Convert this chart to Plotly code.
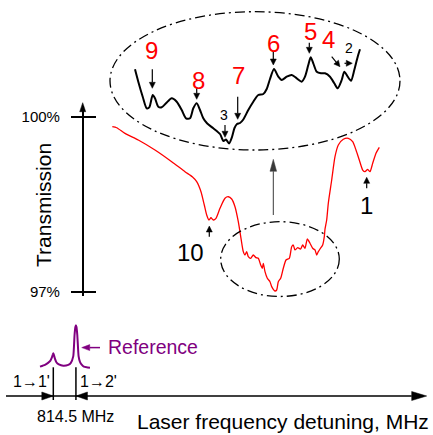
import math
import plotly.graph_objects as go

# ---------------- data ----------------
# Transmission spectrum of the sample: laser detuning (MHz) vs transmission (%)
detuning_mhz = [2124, 2282, 2581, 3060, 3661, 4262, 4741, 5004, 5162, 5317,
                5436, 5522, 5605, 5677, 5760, 5857, 6001, 6181, 6300, 6422,
                6541, 6660, 6757, 6840, 6901, 6962, 7020, 7106, 7200, 7297,
                7380, 7466, 7524, 7560, 7621, 7704, 7801, 7862, 7981, 8042,
                8100, 8186, 8280, 8377, 8496, 8582, 8640, 8701, 8798, 8906,
                8978, 9061, 9144, 9241, 9338, 9421, 9482, 9540, 9601, 9698,
                9756, 9781, 9842, 9900, 10022, 10141, 10260, 10440, 10620, 10778,
                10897, 11016, 11138, 11221, 11318, 11401, 11498, 11617, 11736]
transmission_pct = [99.829, 99.811, 99.715, 99.601, 99.429, 99.229, 99.057, 98.971, 98.886, 98.714,
                    98.486, 98.315, 98.229, 98.268, 98.229, 98.258, 98.430, 98.601, 98.628, 98.589,
                    98.457, 98.200, 97.915, 97.686, 97.629, 97.686, 97.600, 97.572, 97.629, 97.583,
                    97.572, 97.458, 97.401, 97.487, 97.343, 97.230, 97.171, 97.086, 97.012, 97.029,
                    97.171, 97.230, 97.401, 97.543, 97.572, 97.771, 97.800, 97.715, 97.754, 97.732,
                    97.800, 97.744, 97.903, 97.830, 97.744, 97.715, 97.629, 97.686, 97.732, 97.800,
                    97.943, 98.070, 98.229, 98.515, 98.915, 99.314, 99.515, 99.613, 99.630, 99.571,
                    99.429, 99.258, 99.086, 99.057, 99.098, 99.057, 99.201, 99.373, 99.475]

# Magnified view of the central absorption dip
inset_detuning_mhz = [6700, 6746, 6808, 6864, 6900, 6948, 6980, 7026, 7074, 7134,
                      7214, 7284, 7354, 7414, 7470, 7516, 7564, 7610, 7656, 7708,
                      7796, 7890, 7939, 7974, 8016, 8058, 8093, 8128, 8170, 8216,
                      8286, 8356, 8426, 8496, 8544, 8590, 8646, 8706, 8754, 8824,
                      8894, 8964, 9034, 9080, 9126, 9160, 9196, 9244, 9304, 9360,
                      9430, 9490, 9538, 9594, 9630, 9678, 9724, 9770, 9818, 9850]
inset_transmission_pct = [98.297, 98.173, 98.023, 97.907, 97.917, 98.040, 98.007, 97.923, 97.917, 97.957,
                          98.007, 97.973, 97.890, 97.807, 97.807, 97.907, 97.957, 97.890, 97.807, 97.757,
                          97.707, 97.650, 97.580, 97.595, 97.555, 97.620, 97.710, 97.750, 97.760, 97.795,
                          97.890, 97.973, 98.040, 98.050, 98.100, 98.200, 98.300, 98.223, 98.190, 98.223,
                          98.240, 98.207, 98.173, 98.223, 98.340, 98.417, 98.357, 98.273, 98.257, 98.257,
                          98.223, 98.157, 98.107, 98.190, 98.273, 98.223, 98.183, 98.290, 98.423, 98.497]

# Saturated-absorption reference signal (arb. units)
ref_detuning_mhz = [-479, -300, -200, -110, -50, -15, 0, 15, 50, 110,
                    200, 360, 540, 626, 720, 765, 795, 814.5, 834, 864,
                    910, 960, 1030, 1100, 1200, 1321]
ref_signal_au = [0.06, 0.10, 0.14, 0.19, 0.27, 0.34, 0.364, 0.34, 0.26, 0.16,
                 0.11, 0.08, 0.10, 0.14, 0.30, 0.78, 0.96, 1.0, 0.96, 0.78,
                 0.30, 0.17, 0.10, 0.06, 0.045, 0.036]

transitions_mhz = [0.0, 814.5]
transition_labels = ["1\u21921'", "1\u21922'"]

trans_tickvals = [97, 100]
trans_ticktext = ["97%", "100%"]

# Numbered resonances: (label, point index, label offset, arrow tail, arrow tip, colour, size)
inset_marks = [
    ("9", 5, (-1, 44.5), (-0.4, 25.7), (-0.4, 6.7), "red", 24),
    ("8", 16, (2.1, 23.3), (0, 15), (0, 4), "red", 24),
    ("7", 27, (1.3, 48.5), (0.7, 27.3), (0.7, 4.7), "red", 24),
    ("3", 23, (-1.7, 24.5), (-1, 14.5), (-1, 2.2), "black", 14),
    ("6", 36, (-0.7, 25.5), (-0.7, 17.3), (-0.7, 4), "red", 24),
    ("5", 45, (-0.7, 26), (-1.4, 14.6), (-1.4, 4), "red", 24),
    ("4", 54, (-16, 32.7), (-12.6, 15), (-4.3, 5), "red", 24),
    ("2", 57, (-5, 21.7), (-9.8, 6.7), (-2, 6.7), "black", 14),
]
main_marks = [
    ("10", 12, (-18.5, -32.5), (0.3, -16.7), (0.3, -6), "black", 24),
    ("1", 73, (1.7, -33.3), (1.7, -16.6), (1.7, -5.6), "black", 24),
]

# ---------------- geometry helpers ----------------
W, H = 433, 435
FONT = "Liberation Sans, Arial, sans-serif"
PURPLE = "#800080"


def X(px):
    return px / W


def Y(py):
    return 1 - py / H


def arrow(xref, yref, xanchor, yanchor, tail, tip, head_len, head_hw, color, lw):
    """Arrow drawn in pixel offsets (y upwards) around an anchor point."""
    (x0, y0), (x1, y1) = tail, tip
    dx, dy = x1 - x0, y1 - y0
    length = math.hypot(dx, dy)
    ux, uy = dx / length, dy / length
    bx, by = x1 - ux * head_len, y1 - uy * head_len
    nx, ny = -uy, ux
    fmt = lambda v: f"{v:.2f}"
    common = dict(type="path", xref=xref, yref=yref, xsizemode="pixel",
                  ysizemode="pixel", xanchor=xanchor, yanchor=yanchor, layer="above")
    out = []
    if length - head_len > 0.5:
        out.append(dict(common, path=f"M{fmt(x0)},{fmt(y0)} L{fmt(bx)},{fmt(by)}",
                        line=dict(color=color, width=lw)))
    out.append(dict(common,
                    path=(f"M{fmt(x1)},{fmt(y1)} L{fmt(bx + nx * head_hw)},{fmt(by + ny * head_hw)} "
                          f"L{fmt(bx - nx * head_hw)},{fmt(by - ny * head_hw)} Z"),
                    fillcolor=color, line=dict(color=color, width=0.5)))
    return out


def paper_arrow(tail_px, tip_px, head_len, head_hw, color, lw):
    tail = (tail_px[0] - tip_px[0], tip_px[1] - tail_px[1])
    return arrow("paper", "paper", X(tip_px[0]), Y(tip_px[1]), tail, (0, 0),
                 head_len, head_hw, color, lw)


def label(x, y, text, size, color="black", xref="paper", yref="paper", **kw):
    d = dict(x=x, y=y, xref=xref, yref=yref, text=text, showarrow=False,
             xanchor="center", yanchor="middle", font=dict(size=size, color=color))
    d.update(kw)
    return d


# ---------------- traces ----------------
fig = go.Figure()
fig.add_trace(go.Scatter(x=detuning_mhz, y=transmission_pct, xaxis="x", yaxis="y2",
                         mode="lines", line=dict(color="red", width=1.3, shape="spline", smoothing=0.6),
                         hoverinfo="skip"))
fig.add_trace(go.Scatter(x=inset_detuning_mhz, y=inset_transmission_pct, xaxis="x3", yaxis="y3",
                         mode="lines", line=dict(color="black", width=2, shape="spline", smoothing=0.7),
                         hoverinfo="skip"))
fig.add_trace(go.Scatter(x=ref_detuning_mhz, y=ref_signal_au, xaxis="x", yaxis="y4",
                         mode="lines", line=dict(color=PURPLE, width=2, shape="spline", smoothing=0.4),
                         hoverinfo="skip"))
fig.add_trace(go.Scatter(x=[None], y=[None], xaxis="x", yaxis="y5", mode="lines",
                         hoverinfo="skip"))

shapes = []
annotations = []

# dash-dot ellipses: magnified region and the dip it comes from
ell_line = dict(color="black", width=1.3, dash="10px,4px,2px,4px")
shapes.append(dict(type="circle", xref="paper", yref="paper", x0=X(110), x1=X(400),
                   y0=Y(150), y1=Y(11.7), line=ell_line, layer="above"))
shapes.append(dict(type="circle", xref="paper", yref="paper", x0=X(220.7), x1=X(339.3),
                   y0=Y(296.5), y1=Y(221.7), line=ell_line, layer="above"))
shapes += paper_arrow((273.3, 215), (273.3, 159.3), 12, 3.3, "#3a3a3a", 1)

# transmission axis arrowhead
shapes += paper_arrow((82.7, 112), (82.7, 102.7), 9, 3, "black", 1.5)

# detuning axis
shapes += paper_arrow((6, 396), (426.7, 396), 15, 4.5, "black", 1.5)
for t, lab, side in zip(transitions_mhz, transition_labels, (-1, 1)):
    shapes.append(dict(type="line", xref="x", yref="paper", x0=t, x1=t,
                       y0=Y(400), y1=Y(367.3), line=dict(color="black", width=1.5)))
    shapes += arrow("x", "paper", t, Y(396), (side * 11.5, 0), (0, 0), 11.5, 4, "black", 1)
    annotations.append(label(t, Y(381), lab, 16, xref="x", xshift=side * 22.2))
annotations.append(label(X(75), Y(416.7),
                         f"{transitions_mhz[1] - transitions_mhz[0]:.1f} MHz", 16))
annotations.append(label(X(282.5), Y(421), "Laser frequency detuning, MHz", 21))
annotations.append(label(X(43), Y(205), "Transmission", 21, textangle=-90))

# reference label pointing at the 1->2' peak
pk = ref_signal_au.index(max(ref_signal_au))
shapes += arrow("x", "y4", ref_detuning_mhz[pk], ref_signal_au[pk], (24.1, -22.3), (5.8, -22.3),
                8, 3, PURPLE, 1.5)
annotations.append(label(ref_detuning_mhz[pk], ref_signal_au[pk], "Reference", 19.5, PURPLE,
                         xref="x", yref="y4", xanchor="left", xshift=30.1, yshift=-21.7))


def add_marks(marks, xs, ys, xref, yref):
    for lab, i, (lx, ly), tail, tip, col, size in marks:
        shapes.extend(arrow(xref, yref, xs[i], ys[i], tail, tip, 6, 3, "black", 1.2))
        annotations.append(label(xs[i], ys[i], lab, size, col, xref=xref, yref=yref,
                                 xshift=lx, yshift=ly))


add_marks(inset_marks, inset_detuning_mhz, inset_transmission_pct, "x3", "y3")
add_marks(main_marks, detuning_mhz, transmission_pct, "x", "y2")

tick_common = dict(tickvals=trans_tickvals, ticks="outside", tickwidth=1.5, tickcolor="black",
                   showgrid=False, zeroline=False, range=[96.9261, 100.1834])

fig.update_layout(
    width=W, height=H, margin=dict(l=0, r=0, t=0, b=0),
    template="none", paper_bgcolor="white", plot_bgcolor="rgba(0,0,0,0)",
    showlegend=False, font=dict(family=FONT, color="black"),
    xaxis=dict(domain=[0, 1], range=[-1918.8, 13669.2], visible=False, anchor="y4"),
    yaxis2=dict(domain=[Y(296), Y(106)], anchor="free", position=X(82.7), side="left",
                showline=True, linecolor="black", linewidth=1.5, ticklen=11,
                ticktext=trans_ticktext, tickfont=dict(size=15, color="black"),
                ticklabelstandoff=8, **tick_common),
    yaxis5=dict(overlaying="y2", anchor="free", position=X(82.7), side="right",
                showline=False, ticklen=12, showticklabels=False, **tick_common),
    xaxis3=dict(domain=[0, 1], range=[4810, 10872], visible=False, anchor="y3"),
    yaxis3=dict(domain=[0, 1], range=[94.64, 98.99], visible=False, anchor="x3"),
    yaxis4=dict(domain=[0, 1], range=[-1.4932, 8.3932], visible=False, anchor="x"),
    shapes=shapes, annotations=annotations,
)

fig.write_html("out.html")
